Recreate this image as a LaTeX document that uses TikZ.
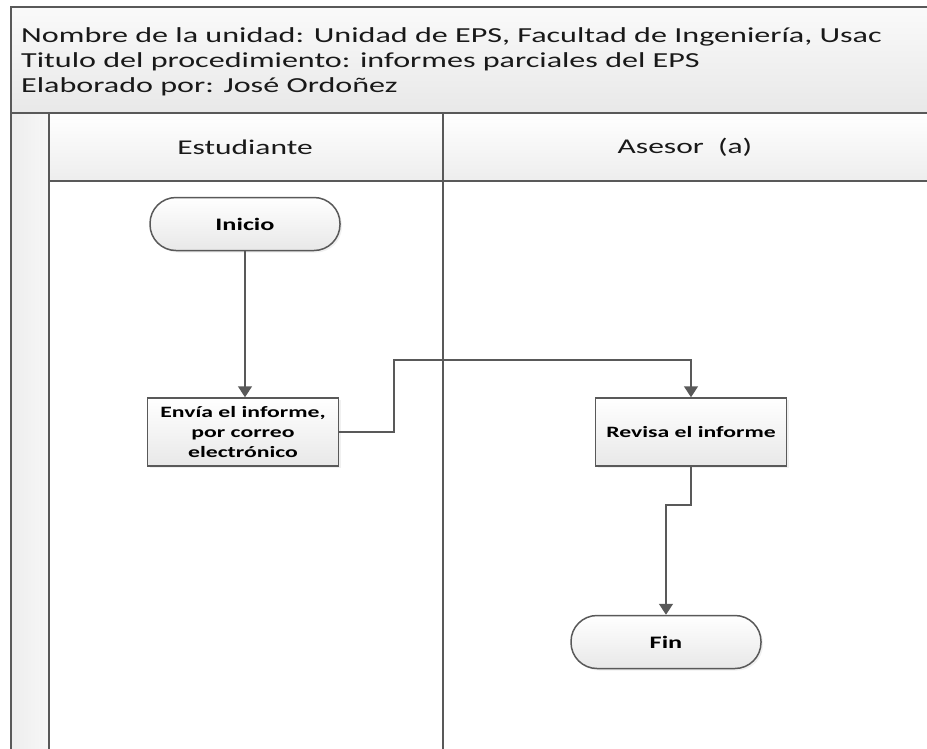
\documentclass[tikz,border=0pt]{standalone}
\usepackage{fontspec}
\setmainfont{Carlito}[FakeStretch=1.5]
\usetikzlibrary{arrows.meta,shadows}

\tikzset{
  line/.style={draw=black!65, line width=1.5pt},
  flow/.style={line, -{Triangle[width=14pt,length=11pt]}},
  terminal/.style={line, rounded corners=26pt, minimum width=190pt, minimum height=53pt,
    top color=white, bottom color=black!9, drop shadow={opacity=0.12,shadow xshift=2pt,shadow yshift=-2pt},
    font=\fontsize{17.5}{20}\selectfont\bfseries},
  task/.style={line, minimum width=191pt, minimum height=68pt, align=center,
    top color=white, bottom color=black!9, drop shadow={opacity=0.12,shadow xshift=2pt,shadow yshift=-2pt},
    font=\fontsize{15.8}{20}\selectfont\bfseries},
  lanetitle/.style={font=\fontsize{21}{24}\selectfont, text=black!90},
}

\begin{document}
\begin{tikzpicture}[x=1pt,y=-1pt]
        \useasboundingbox (0,0) rectangle (927,748);
        % Draw header and pool
        \draw[line, top color=black!2, bottom color=black!9] (11,7) rectangle (935,113);
        \draw[line, left color=black!7, right color=black!3] (11,113) rectangle (49,760);
        \draw[line, top color=white, bottom color=black!7] (49,113) rectangle (935,181);
        \draw[line] (443,113) -- (443,760);
        % Header texts
        \foreach \txt [count=\i] in {{Nombre de la unidad: Unidad de EPS, Facultad de Ingeniería, Usac},
            {Titulo del procedimiento: informes parciales del EPS},
            {Elaborado por: José Ordoñez}}
            \node[anchor=base west, inner sep=0pt, font=\fontsize{21.4}{24}\selectfont, text=black!90]
              (head\i) at (21,17+25*\i) {\txt};
        % Lane titles
        \node[lanetitle] (estudiante) at (245,147) {Estudiante};
        \node[lanetitle] (asesor) at (685,147) {Asesor~~(a)};
        % Shapes
        \node[terminal] (inicio) at (245,224) {Inicio};
        \node[task] (envia) at (243,432) {Envía el informe,\\por correo\\electrónico};
        \node[task] (revisa) at (691,432) {Revisa el informe};
        \node[terminal] (fin) at (666,642) {Fin};
        % Connectors
        \coordinate (k1) at (394,360);
        \coordinate (k2) at (666,505);
        \draw[flow] (inicio) -- (inicio |- envia.north);
        \draw[flow] (envia.east) -| (k1) -| (revisa.north);
        \draw[flow] (revisa.south) |- (k2) -- (fin.north);
\end{tikzpicture}
\end{document}
